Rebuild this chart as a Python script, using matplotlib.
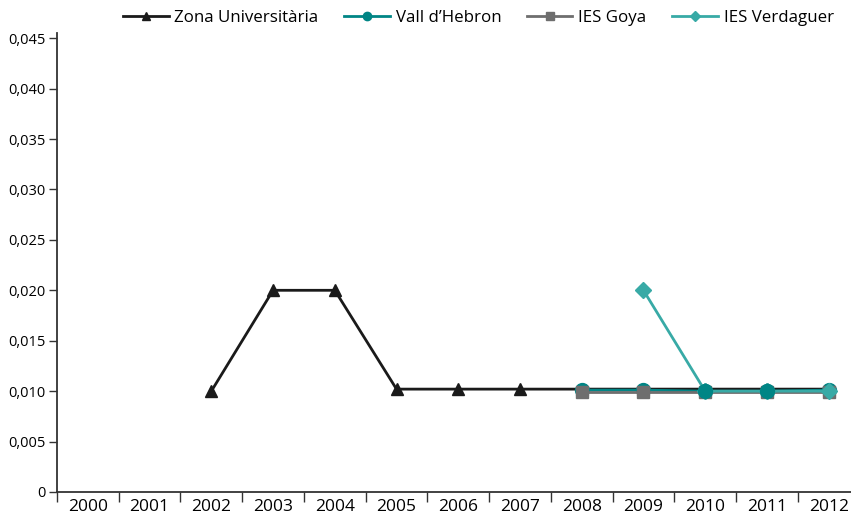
import numpy as np
import matplotlib.pyplot as plt
from matplotlib.ticker import FuncFormatter

plt.rcParams['font.family'] = ['Open Sans', 'DejaVu Sans']

years = ['2000', '2001', '2002', '2003', '2004', '2005', '2006',
         '2007', '2008', '2009', '2010', '2011', '2012']

# values per year, None = no data
zona = [None, None, 0.0100, 0.0200, 0.0200, 0.0102, 0.0102,
        0.0102, 0.0102, 0.0102, 0.0102, 0.0102, 0.0102]
vall = [None, None, None, None, None, None, None,
        None, 0.0101, 0.0101, 0.0100, 0.0100, 0.0101]
goya = [None, None, None, None, None, None, None,
        None, 0.0099, 0.0099, 0.0099, 0.0099, 0.0099]
verdaguer = [None, None, None, None, None, None, None,
             None, None, 0.0200, 0.0100, 0.0100, 0.0100]

def to_arr(v):
    return np.array([np.nan if x is None else x for x in v], dtype=float)

x = np.arange(len(years))

fig = plt.figure(figsize=(8.51, 5.22), dpi=100)
ax = fig.add_axes([0.067, 0.0575, 0.943, 0.879])

ax.plot(x, to_arr(zona), color='#1a1a1a', lw=2, marker='^', ms=9, label='Zona Universitària', zorder=2)
ax.plot(x, to_arr(vall), color='#008585', lw=2, marker='o', ms=10, label='Vall d\u2019Hebron', zorder=2.1)
ax.plot(x, to_arr(goya), color='#6e6e6e', lw=2, marker='s', ms=9, label='IES Goya', zorder=2.2)
ax.plot(x, to_arr(verdaguer), color='#38aaa6', lw=2, marker='D', ms=8, label='IES Verdaguer', zorder=2.3)
# in the original the Vall d'Hebron markers sit on top in 2010-2011
ax.plot(x, to_arr(vall), color='#008585', ls='none', marker='o', ms=10, markevery=[10, 11], zorder=2.4)

ax.set_xlim(-0.5, 12.5)
ax.set_ylim(0, 0.0455)

ax.set_xticks(np.arange(-0.5, 12.6, 1))
ax.set_xticklabels([])
ax.set_xticks(x, minor=True)
ax.set_xticklabels(years, minor=True, fontsize=12.5)
ax.tick_params(axis='x', which='major', length=7, width=1, color='#333333', direction='out')
ax.tick_params(axis='x', which='minor', length=0, pad=5)

ax.set_yticks(np.arange(0, 0.0451, 0.005))
ax.yaxis.set_major_formatter(FuncFormatter(lambda v, p: '0' if abs(v) < 1e-9 else f'{v:.3f}'.replace('.', ',')))
ax.tick_params(axis='y', length=6, width=1, color='#333333', labelsize=10.5, pad=2)

for s in ['top', 'right']:
    ax.spines[s].set_visible(False)
for s in ['left', 'bottom']:
    ax.spines[s].set_color('#333333')
    ax.spines[s].set_linewidth(1.3)

fig.legend(loc='upper center', bbox_to_anchor=(0.562, 1.01), ncol=4, frameon=False,
           fontsize=12.2, handlelength=2.7, columnspacing=1.5, handletextpad=0.35,
           markerscale=0.6)

fig.savefig('out.png', dpi=100)
